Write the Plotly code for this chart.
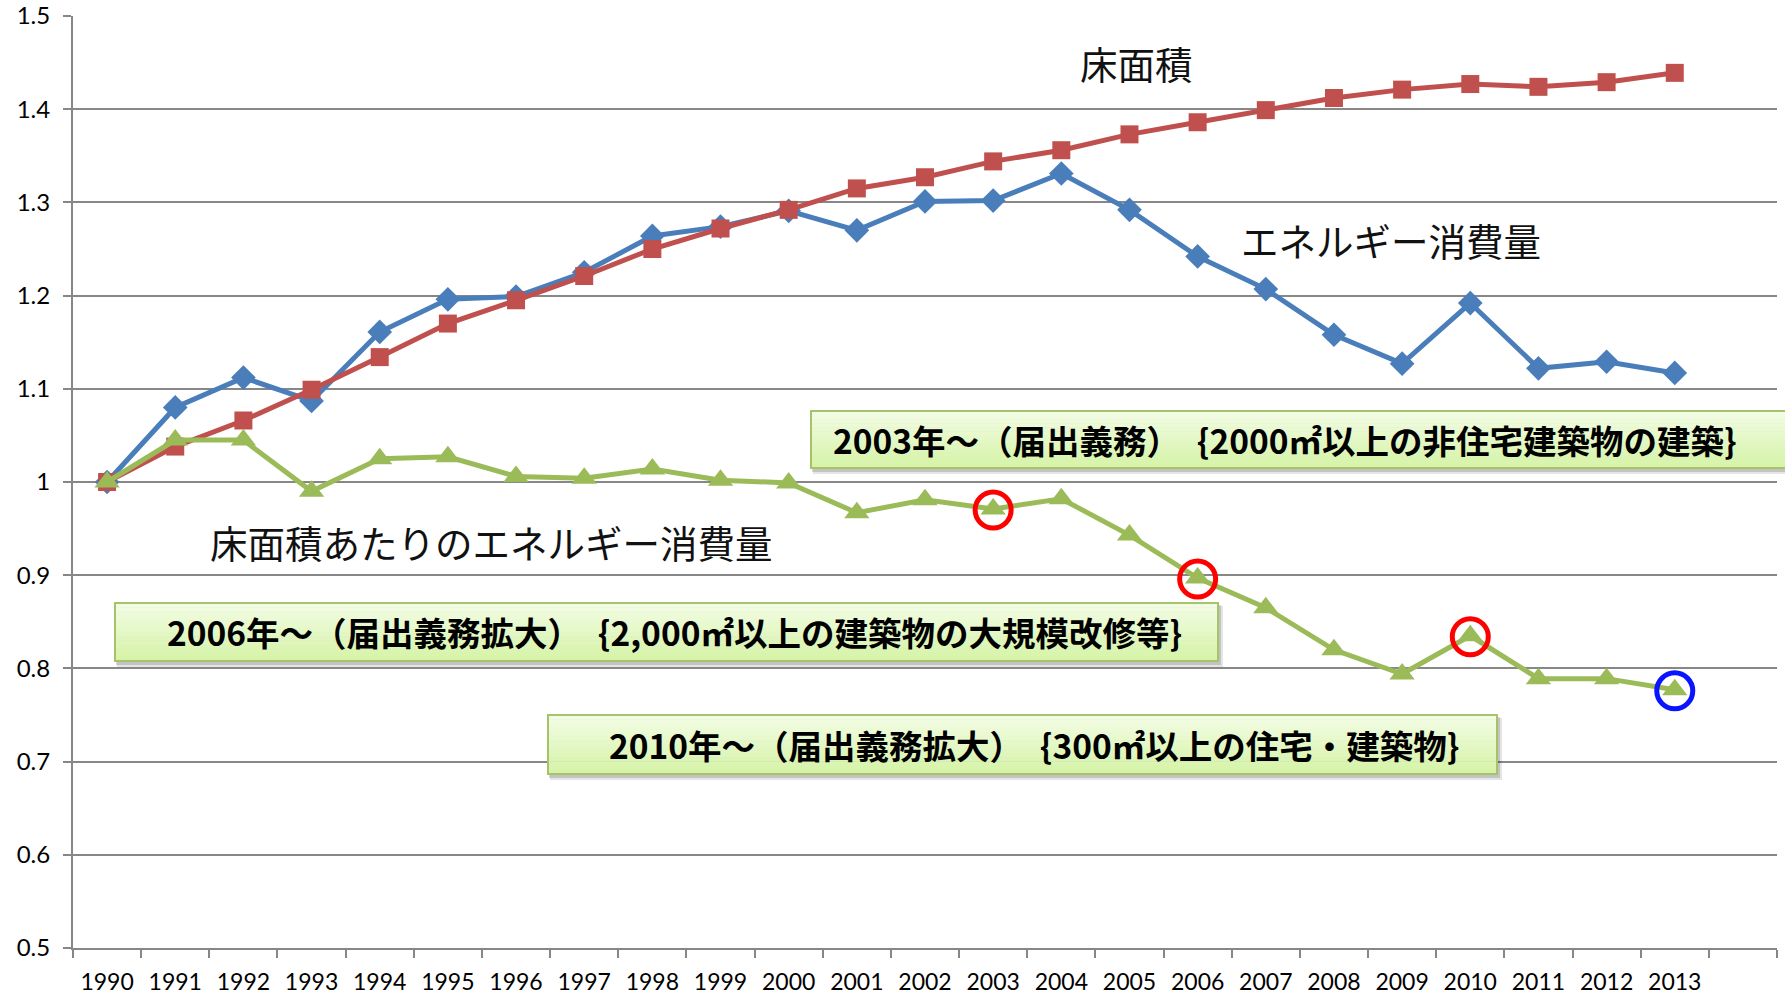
import plotly.graph_objects as go

# ---- data ----
years = list(range(1990, 2014))
energy = [1.000, 1.080, 1.112, 1.087, 1.161, 1.196, 1.199, 1.225, 1.264, 1.274, 1.291, 1.270,
          1.301, 1.302, 1.331, 1.292, 1.242, 1.207, 1.158, 1.127, 1.192, 1.122, 1.129, 1.117]
floor_area = [1.000, 1.038, 1.066, 1.099, 1.134, 1.170, 1.195, 1.221, 1.250, 1.272, 1.292, 1.315,
              1.327, 1.344, 1.356, 1.373, 1.386, 1.399, 1.412, 1.421, 1.427, 1.424, 1.429, 1.439]
per_area = [1.000, 1.045, 1.045, 0.990, 1.025, 1.027, 1.006, 1.004, 1.014, 1.002, 0.999, 0.967,
            0.981, 0.971, 0.982, 0.943, 0.897, 0.865, 0.820, 0.794, 0.835, 0.789, 0.789, 0.777]
red_circle_years = [2003, 2006, 2010]
blue_circle_years = [2013]

label_floor = "床面積"
label_energy = "エネルギー消費量"
label_per_area = "床面積あたりのエネルギー消費量"
box_texts = [
    "2003年～（届出義務）　{2000㎡以上の非住宅建築物の建築}",
    "2006年～（届出義務拡大）　{2,000㎡以上の建築物の大規模改修等}",
    "2010年～（届出義務拡大）　{300㎡以上の住宅・建築物}",
]

# ---- layout geometry (pixels) ----
W, H = 1785, 994
L, R, T, B = 73, 8, 16, 46
PW = W - L - R
PH = H - T - B


def px(x):
    return (x - L) / PW


def py(y):
    return (H - B - y) / PH


GRID = "#878787"
fig = go.Figure()

fig.add_trace(go.Scatter(x=years, y=energy, mode="lines+markers", name="エネルギー消費量",
                         line=dict(color="#4a7ebb", width=5),
                         marker=dict(symbol="diamond", size=19, color="#4a7ebb")))
fig.add_trace(go.Scatter(x=years, y=floor_area, mode="lines+markers", name="床面積",
                         line=dict(color="#c0504d", width=5),
                         marker=dict(symbol="square", size=18, color="#c0504d")))
fig.add_trace(go.Scatter(x=years, y=per_area, mode="lines+markers", name="床面積あたり",
                         line=dict(color="#9bbb59", width=5),
                         marker=dict(symbol="triangle-up", size=22, color="#9bbb59")))

shapes = []


def add_box(x0, x1, y0, y1):
    # shadow
    shapes.append(dict(type="rect", xref="paper", yref="paper", layer="above",
                       x0=px(x0 + 2), x1=px(x1 + 5), y0=py(y1 + 6), y1=py(y0 + 3),
                       fillcolor="rgba(0,0,0,0.10)", line=dict(width=0)))
    shapes.append(dict(type="rect", xref="paper", yref="paper", layer="above",
                       x0=px(x0 + 1), x1=px(x1 + 3), y0=py(y1 + 4), y1=py(y0 + 2),
                       fillcolor="rgba(0,0,0,0.15)", line=dict(width=0)))
    n = 14
    top = (242, 252, 228)
    bot = (214, 243, 168)
    for i in range(n):
        t = i / (n - 1)
        c = tuple(int(round(top[k] + (bot[k] - top[k]) * t)) for k in range(3))
        ya = y0 + (y1 - y0) * i / n
        yb = y0 + (y1 - y0) * (i + 1) / n
        shapes.append(dict(type="rect", xref="paper", yref="paper", layer="above",
                           x0=px(x0), x1=px(x1), y0=py(yb + 0.5), y1=py(ya),
                           fillcolor="rgb(%d,%d,%d)" % c, line=dict(width=0)))
    shapes.append(dict(type="rect", xref="paper", yref="paper", layer="above",
                       x0=px(x0), x1=px(x1), y0=py(y1), y1=py(y0),
                       fillcolor="rgba(0,0,0,0)", line=dict(color="#a5c46a", width=2)))


add_box(811, 1800, 411, 468)
add_box(115, 1218, 603, 661)
add_box(548, 1497, 715, 774)

for yr in red_circle_years:
    v = per_area[years.index(yr)]
    shapes.append(dict(type="circle", xref="x", yref="y", xsizemode="pixel", ysizemode="pixel",
                       xanchor=yr, yanchor=v, x0=-18, x1=18, y0=-19, y1=17,
                       line=dict(color="#ff0000", width=5), layer="above"))
for yr in blue_circle_years:
    v = per_area[years.index(yr)]
    shapes.append(dict(type="circle", xref="x", yref="y", xsizemode="pixel", ysizemode="pixel",
                       xanchor=yr, yanchor=v, x0=-18, x1=18, y0=-19, y1=17,
                       line=dict(color="#0a14ff", width=5), layer="above"))

JP = "Noto Sans CJK JP"
annotations = [
    dict(text=label_floor, x=px(1136), y=py(63), xref="paper", yref="paper", showarrow=False,
         xanchor="center", yanchor="middle", font=dict(family=JP, size=37.5, color="#111")),
    dict(text=label_energy, x=px(1391), y=py(240), xref="paper", yref="paper", showarrow=False,
         xanchor="center", yanchor="middle", font=dict(family=JP, size=37.5, color="#111")),
    dict(text=label_per_area, x=px(491), y=py(541), xref="paper", yref="paper", showarrow=False,
         xanchor="center", yanchor="middle", font=dict(family=JP, size=37.5, color="#111")),
    dict(text=box_texts[0], x=px(831), y=py(439), xref="paper", yref="paper", showarrow=False,
         xanchor="left", yanchor="middle", font=dict(family=JP, size=33.5, color="#000", weight=700)),
    dict(text=box_texts[1], x=px(674), y=py(631), xref="paper", yref="paper", showarrow=False,
         xanchor="center", yanchor="middle", font=dict(family=JP, size=33.5, color="#000", weight=700)),
    dict(text=box_texts[2], x=px(1034), y=py(744), xref="paper", yref="paper", showarrow=False,
         xanchor="center", yanchor="middle", font=dict(family=JP, size=33.5, color="#000", weight=700)),
]

fig.update_layout(
    width=W, height=H, margin=dict(l=L, r=R, t=T, b=B, pad=0, autoexpand=False),
    paper_bgcolor="white", plot_bgcolor="white", showlegend=False,
    shapes=shapes, annotations=annotations,
    xaxis=dict(range=[1989.5, 2014.5], tickmode="array", tickvals=years, automargin=False,
               ticktext=[str(y) for y in years], ticks="", showgrid=False, zeroline=False,
               showline=True, linecolor=GRID, linewidth=2,
               tickfont=dict(family="Lato", size=23, color="#000"), ticklabelstandoff=12,
               minor=dict(tick0=1989.5, dtick=1, ticks="outside", ticklen=8, tickwidth=2,
                          tickcolor=GRID, showgrid=False)),
    yaxis=dict(range=[0.5, 1.5], dtick=0.1, tick0=0.5, showgrid=True, gridcolor=GRID, gridwidth=2,
               zeroline=False, showline=True, linecolor=GRID, linewidth=2, automargin=False,
               ticks="outside", ticklen=8, tickwidth=2, tickcolor=GRID,
               tickfont=dict(family="Lato", size=24, color="#000"), ticklabelstandoff=8),
)

fig.write_html("out.html", config={"displayModeBar": False},
               post_script="document.body.style.margin='0';document.body.style.overflow='hidden';")
